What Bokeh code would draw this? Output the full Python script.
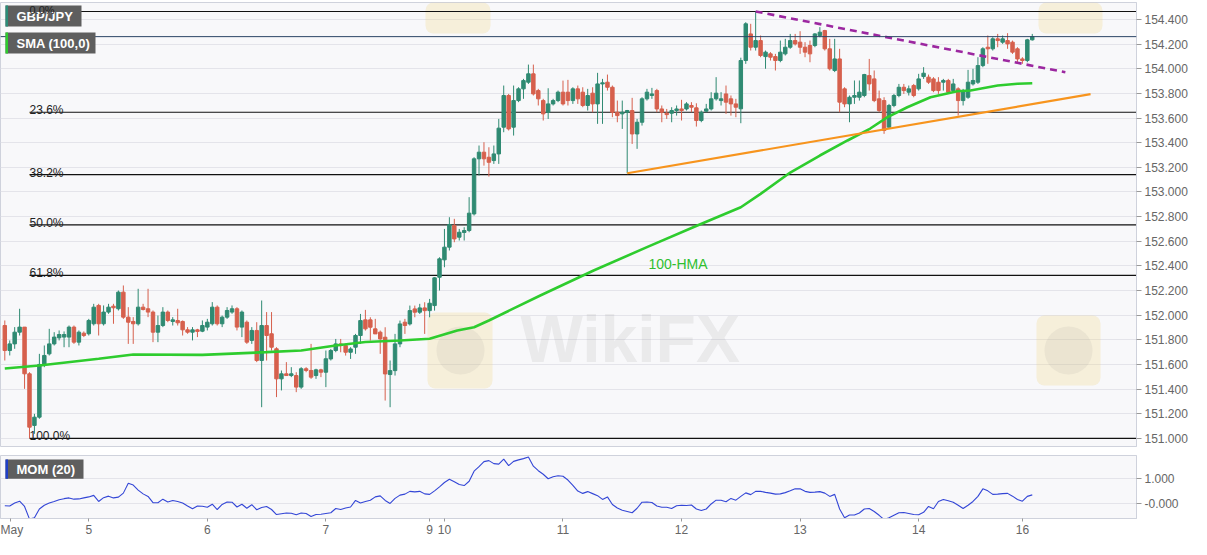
from bokeh.plotting import figure
from bokeh.models import (Range1d, FixedTicker, NumeralTickFormatter, Span, Label,
                          BoxAnnotation, ColumnDataSource)
from bokeh.layouts import column
from bokeh.embed import file_html
from bokeh.resources import INLINE
from bokeh.core.properties import value

FONT = "Liberation Sans"

# ---------------- data (hourly bars, index 0 = first visible bar) ----------------
opens = [
    151.916, 151.713, 151.767, 151.862, 151.903, 151.524, 151.105, 151.172, 151.600, 151.686,
    151.767, 151.816, 151.822, 151.822, 151.903, 151.781, 151.854, 151.849, 151.930, 152.079,
    151.930, 152.025, 152.073, 152.052, 152.187, 151.984, 151.949, 151.930, 152.065, 152.052,
    152.025, 151.862, 151.916, 152.025, 151.949, 151.957, 151.949, 151.881, 151.862, 151.881,
    151.870, 151.903, 151.930, 152.065, 151.930, 151.984, 152.025, 152.052, 151.903, 151.943,
    151.795, 151.876, 151.632, 151.916, 151.849, 151.727, 151.483, 151.524, 151.510, 151.510,
    151.416, 151.565, 151.551, 151.510, 151.556, 151.537, 151.645, 151.713, 151.767, 151.753,
    151.699, 151.740, 151.835, 151.962, 151.962, 151.889, 151.862, 151.821, 151.518, 151.550,
    151.767, 151.943, 151.929, 152.051, 152.024, 152.059, 152.037, 152.078, 152.308, 152.449,
    152.552, 152.727, 152.633, 152.671, 152.687, 152.822, 153.269, 153.323, 153.282, 153.255,
    153.309, 153.526, 153.783, 153.526, 153.742, 153.837, 153.891, 153.959, 153.823, 153.742,
    153.647, 153.715, 153.742, 153.810, 153.810, 153.742, 153.837, 153.810, 153.702, 153.802,
    153.715, 153.877, 153.891, 153.850, 153.647, 153.634, 153.647, 153.661, 153.471, 153.566,
    153.756, 153.783, 153.823, 153.674, 153.639, 153.639, 153.661, 153.674, 153.674, 153.702,
    153.683, 153.580, 153.656, 153.674, 153.756, 153.742, 153.796, 153.756, 153.715, 153.675,
    154.067, 154.283, 154.175, 154.229, 154.099, 154.121, 154.099, 154.067, 154.121, 154.175,
    154.229, 154.216, 154.175, 154.189, 154.189, 154.270, 154.310, 154.162, 153.986, 154.080,
    153.837, 153.715, 153.769, 153.769, 153.783, 153.945, 153.918, 153.756, 153.742, 153.526,
    153.702, 153.783, 153.850, 153.810, 153.864, 153.837, 153.937, 153.932, 153.918, 153.891,
    153.891, 153.905, 153.823, 153.837, 153.742, 153.769, 153.877, 153.891, 154.026, 154.175,
    154.162, 154.243, 154.216, 154.229, 154.216, 154.162, 154.080, 154.067, 154.235,
]
highs = [
    151.957, 151.795, 151.903, 152.052, 151.903, 151.537, 151.199, 151.686, 151.754, 151.889,
    151.862, 151.876, 151.868, 151.916, 151.916, 151.876, 151.868, 151.970, 152.092, 152.092,
    152.079, 152.092, 152.092, 152.200, 152.241, 152.065, 151.984, 152.214, 152.092, 152.214,
    152.038, 151.997, 152.065, 152.038, 151.984, 152.052, 151.957, 151.903, 151.903, 151.889,
    151.957, 151.970, 152.106, 152.079, 151.997, 152.065, 152.079, 152.065, 152.038, 151.957,
    151.903, 151.943, 152.119, 152.025, 152.025, 151.740, 151.551, 151.619, 151.578, 151.537,
    151.578, 151.578, 151.767, 151.565, 151.565, 151.713, 151.726, 151.807, 151.807, 151.767,
    151.740, 151.848, 152.010, 152.043, 151.983, 151.970, 151.875, 151.902, 151.632, 151.848,
    151.956, 151.970, 152.078, 152.078, 152.092, 152.105, 152.132, 152.308, 152.470, 152.700,
    152.795, 152.782, 152.700, 152.714, 152.958, 153.282, 153.377, 153.404, 153.363, 153.377,
    153.593, 153.864, 153.796, 153.864, 153.850, 153.918, 154.034, 154.034, 153.837, 153.756,
    153.842, 153.756, 153.823, 153.904, 153.910, 153.850, 153.864, 153.850, 153.837, 153.850,
    153.967, 153.918, 153.953, 153.864, 153.742, 153.742, 153.666, 153.764, 153.593, 153.769,
    153.837, 153.845, 153.837, 153.702, 153.674, 153.688, 153.702, 153.748, 153.729, 153.729,
    153.720, 153.661, 153.715, 153.810, 153.932, 153.810, 153.864, 153.783, 153.756, 154.090,
    154.378, 154.365, 154.465, 154.270, 154.148, 154.135, 154.121, 154.229, 154.243, 154.283,
    154.283, 154.305, 154.216, 154.229, 154.289, 154.338, 154.316, 154.243, 154.243, 154.162,
    153.850, 153.783, 153.905, 153.905, 153.959, 154.080, 153.986, 153.823, 153.769, 153.715,
    153.796, 153.877, 153.877, 153.864, 153.877, 153.959, 154.013, 153.953, 153.932, 153.932,
    153.918, 153.918, 153.918, 153.850, 153.837, 153.991, 154.000, 154.094, 154.175, 154.270,
    154.256, 154.283, 154.270, 154.289, 154.229, 154.175, 154.094, 154.243, 154.283,
]
lows = [
    151.632, 151.673, 151.727, 151.835, 151.402, 151.000, 151.037, 151.159, 151.578, 151.673,
    151.754, 151.795, 151.740, 151.740, 151.767, 151.754, 151.822, 151.835, 151.916, 151.835,
    151.916, 152.011, 151.930, 152.038, 151.970, 151.767, 151.767, 151.916, 152.038, 151.984,
    151.781, 151.781, 151.903, 151.943, 151.916, 151.916, 151.835, 151.849, 151.795, 151.822,
    151.862, 151.876, 151.916, 151.916, 151.903, 151.970, 152.011, 151.876, 151.822, 151.767,
    151.767, 151.619, 151.253, 151.632, 151.713, 151.335, 151.389, 151.510, 151.497, 151.375,
    151.402, 151.537, 151.483, 151.483, 151.497, 151.416, 151.632, 151.699, 151.699, 151.672,
    151.645, 151.686, 151.767, 151.875, 151.794, 151.848, 151.686, 151.307, 151.253, 151.510,
    151.740, 151.848, 151.916, 151.983, 152.010, 151.848, 151.983, 152.037, 152.200, 152.389,
    152.525, 152.592, 152.606, 152.606, 152.673, 152.809, 153.133, 153.214, 153.125, 153.228,
    153.228, 153.485, 153.499, 153.458, 153.729, 153.756, 153.877, 153.783, 153.702, 153.580,
    153.593, 153.702, 153.729, 153.702, 153.702, 153.715, 153.715, 153.688, 153.661, 153.647,
    153.553, 153.553, 153.823, 153.607, 153.566, 153.512, 153.152, 153.390, 153.350, 153.539,
    153.742, 153.756, 153.647, 153.566, 153.593, 153.566, 153.620, 153.580, 153.661, 153.647,
    153.531, 153.566, 153.647, 153.661, 153.742, 153.702, 153.634, 153.620, 153.607, 153.558,
    154.040, 154.148, 154.148, 154.094, 154.000, 154.067, 153.986, 154.053, 154.108, 154.162,
    154.189, 154.121, 154.094, 154.053, 154.175, 154.256, 154.148, 153.986, 153.973, 153.647,
    153.688, 153.566, 153.715, 153.742, 153.769, 153.823, 153.729, 153.647, 153.472, 153.512,
    153.688, 153.769, 153.796, 153.783, 153.769, 153.823, 153.918, 153.877, 153.810, 153.796,
    153.823, 153.796, 153.810, 153.620, 153.702, 153.756, 153.864, 153.877, 154.013, 154.040,
    154.148, 154.175, 154.202, 154.162, 154.121, 154.053, 154.040, 154.053, 154.229,
]
closes = [
    151.713, 151.767, 151.862, 151.903, 151.524, 151.091, 151.172, 151.600, 151.673, 151.767,
    151.822, 151.843, 151.843, 151.903, 151.781, 151.862, 151.835, 151.957, 152.065, 151.930,
    152.025, 152.065, 152.060, 152.187, 151.984, 151.943, 151.930, 152.065, 152.046, 152.025,
    151.862, 151.916, 152.025, 151.957, 151.962, 151.938, 151.881, 151.862, 151.881, 151.868,
    151.916, 151.943, 152.065, 151.930, 151.984, 152.038, 152.052, 151.903, 152.025, 151.781,
    151.876, 151.632, 151.916, 151.835, 151.740, 151.483, 151.524, 151.510, 151.524, 151.416,
    151.565, 151.551, 151.497, 151.556, 151.537, 151.646, 151.713, 151.767, 151.753, 151.699,
    151.726, 151.835, 151.956, 151.889, 151.902, 151.848, 151.807, 151.523, 151.550, 151.767,
    151.929, 151.916, 152.037, 152.024, 152.059, 152.037, 152.097, 152.303, 152.457, 152.552,
    152.736, 152.619, 152.673, 152.687, 152.828, 153.269, 153.323, 153.269, 153.241, 153.309,
    153.518, 153.783, 153.512, 153.742, 153.837, 153.904, 153.959, 153.796, 153.756, 153.634,
    153.715, 153.742, 153.810, 153.715, 153.742, 153.837, 153.756, 153.702, 153.783, 153.715,
    153.877, 153.886, 153.850, 153.647, 153.620, 153.647, 153.661, 153.471, 153.566, 153.756,
    153.810, 153.796, 153.674, 153.647, 153.628, 153.661, 153.674, 153.661, 153.715, 153.688,
    153.580, 153.647, 153.674, 153.756, 153.802, 153.756, 153.729, 153.715, 153.688, 154.067,
    154.365, 154.175, 154.229, 154.108, 154.135, 154.094, 154.067, 154.135, 154.175, 154.229,
    154.202, 154.175, 154.135, 154.121, 154.283, 154.297, 154.162, 154.000, 154.080, 153.729,
    153.715, 153.769, 153.783, 153.810, 153.953, 153.877, 153.742, 153.661, 153.499, 153.702,
    153.783, 153.850, 153.823, 153.837, 153.783, 153.918, 153.964, 153.891, 153.823, 153.823,
    153.905, 153.810, 153.877, 153.742, 153.823, 153.891, 153.905, 154.026, 154.162, 154.162,
    154.243, 154.229, 154.243, 154.202, 154.135, 154.080, 154.067, 154.235, 154.261,
]
mom = [
    -0.07, -0.08, 0.04, 0.11, -0.10, -0.60, -0.55, -0.20, -0.05, 0.04,
    0.10, 0.17, 0.21, 0.24, 0.19, 0.20, 0.24, 0.28, 0.34, 0.10,
    0.25, 0.31, 0.24, 0.27, 0.43, 0.82, 0.75, 0.55, 0.40, 0.30,
    0.05, 0.05, 0.19, 0.08, 0.14, 0.10, 0.04, -0.08, -0.19, -0.08,
    -0.09, -0.13, -0.01, -0.22, -0.02, 0.08, 0.07, -0.12, -0.01, -0.17,
    -0.03, -0.23, -0.14, -0.10, -0.22, -0.42, -0.39, -0.36, -0.37, -0.43,
    -0.36, -0.38, -0.50, -0.42, -0.41, -0.38, -0.35, -0.18, -0.22, -0.16,
    -0.12, 0.14, 0.04, 0.10, 0.15, 0.28, 0.32, 0.14, 0.02, 0.22,
    0.35, 0.39, 0.50, 0.48, 0.50, 0.40, 0.38, 0.52, 0.68, 0.85,
    0.98, 0.88, 0.77, 0.73, 0.90, 1.30, 1.48, 1.68, 1.72, 1.60,
    1.58, 1.78, 1.52, 1.69, 1.75, 1.80, 1.86, 1.50, 1.32, 1.18,
    1.00, 1.08, 1.12, 1.10, 0.95, 0.74, 0.51, 0.42, 0.49, 0.41,
    0.33, 0.18, 0.28, -0.02, -0.16, -0.25, -0.30, -0.35, -0.17, 0.07,
    0.08, 0.06, -0.08, -0.13, -0.13, -0.18, -0.07, -0.05, -0.06, -0.04,
    -0.20, -0.26, -0.20, 0.00, 0.15, 0.15, 0.09, 0.22, 0.15, 0.30,
    0.44, 0.37, 0.50, 0.50, 0.46, 0.43, 0.39, 0.40, 0.45, 0.52,
    0.60, 0.60, 0.50, 0.46, 0.47, 0.49, 0.43, 0.30, 0.38, -0.20,
    -0.55, -0.44, -0.44, -0.36, -0.20, -0.18, -0.30, -0.45, -0.62, -0.55,
    -0.45, -0.35, -0.34, -0.38, -0.42, -0.43, -0.33, -0.10, -0.19, 0.10,
    0.18, 0.13, 0.07, -0.05, -0.18, -0.05, 0.10, 0.30, 0.60, 0.52,
    0.38, 0.39, 0.41, 0.42, 0.31, 0.18, 0.11, 0.30, 0.36,
]
sma_bar = [0, 7, 19, 26, 40, 53, 60, 67, 73, 80, 86, 91.6, 95, 98, 108.4, 119.2,
           130, 140.2, 149, 153, 159, 165, 170.6, 175.2, 178.7, 182.7, 187.4,
           192.8, 195.5, 201, 205, 208]
sma_val = [151.567, 151.592, 151.646, 151.681, 151.678, 151.700, 151.713, 151.754,
           151.782, 151.794, 151.808, 151.876, 151.902, 151.957, 152.160, 152.363,
           152.552, 152.728, 152.876, 152.985, 153.158, 153.296, 153.418, 153.515,
           153.607, 153.688, 153.769, 153.818, 153.824, 153.864, 153.878, 153.883]

day_ticks = [1.15, 17, 41, 65, 86, 89, 113, 137, 161, 185, 206]
day_labels = ["May", "5", "6", "7", "9", "10", "11", "12", "13", "14", "16"]
price_ticks = [151.0, 151.2, 151.4, 151.6, 151.8, 152.0, 152.2, 152.4, 152.6,
               152.8, 153.0, 153.2, 153.4, 153.6, 153.8, 154.0, 154.2, 154.4]
mom_ticks = [0, 1]
mom_tick_labels = ["-0.000", "1.000"]

fib_high = 154.465
fib_low = 151.000
fib_levels = [0.0, 23.6, 38.2, 50.0, 61.8, 100.0]
fib_start_bar = 5
support_bar = [126, 219.8]
support_val = [153.152, 153.794]
resist_bar = [152, 214.7]
resist_val = [154.465, 153.972]
last_price = 154.261
hma_label_bar = 130.3
hma_label_price = 152.419

# ---------------- geometry helpers (picture pixels -> data) ----------------
FW = 1136
X0, X1 = -0.87, 229.1
MAIN_TOP, MAIN_FH = 2, 444
Y0, Y1 = 150.934, 154.538
MOM_TOP, MOM_FH = 455, 65
MY0, MY1 = -0.577, 1.923


def kx(px):
    return X0 + px * (X1 - X0) / FW


def py_(py):
    return Y1 - (py - MAIN_TOP) * (Y1 - Y0) / MAIN_FH


def my_(py):
    return MY1 - (py - MOM_TOP) * (MY1 - MY0) / MOM_FH


GREEN = "#2f8a72"
RED = "#d6604d"
BG = "#f8f8fa"
GRID = "#e4e4ea"
BORDER = "#cfd2dc"

xr = Range1d(X0, X1)

p = figure(width=1191, height=451, x_range=xr, y_range=Range1d(Y0, Y1),
           output_backend="svg", toolbar_location=None, x_axis_location=None,
           y_axis_location="right", min_border_left=0, min_border_right=55,
           min_border_top=2, min_border_bottom=5)
p.background_fill_color = BG
p.border_fill_color = "white"
p.outline_line_color = BORDER
p.xgrid.visible = False
p.yaxis.ticker = FixedTicker(ticks=price_ticks)
p.yaxis.formatter = NumeralTickFormatter(format="0.000")
p.ygrid.grid_line_color = GRID
p.yaxis.axis_line_color = BORDER
p.yaxis.major_tick_line_color = "#999999"
p.yaxis.major_tick_out = 5
p.yaxis.major_tick_in = 0
p.yaxis.minor_tick_line_color = None
p.yaxis.major_label_text_font = FONT
p.yaxis.major_label_text_font_size = "12px"
p.yaxis.major_label_text_color = "#666666"
p.yaxis.major_label_standoff = 3

# faint watermark logos
for (l, r, t, b) in [(427, 492, 312, 388), (1036, 1100, 315, 385), (425, 490, 2, 33), (1038, 1102, 2, 33)]:
    p.add_layout(BoxAnnotation(left=kx(l), right=kx(r), top=py_(t), bottom=py_(b),
                               fill_color="#f0d27a", fill_alpha=0.25, line_color=None,
                               border_radius=8, level="underlay"))
p.scatter(x=[kx(460), kx(1068)], y=[py_(350), py_(350)], size=48, marker="circle",
          fill_color="#8a8a8a", fill_alpha=0.10, line_color=None)
p.text(x=[kx(520)], y=[py_(338)], text=["WikiFX"], text_font=value(FONT),
       text_font_style="bold", text_font_size="66px", text_color="#8a8a8a",
       text_alpha=0.13, text_baseline="alphabetic")

# fibonacci levels
fib_prices = [fib_high - lv / 100.0 * (fib_high - fib_low) for lv in fib_levels]
p.segment(x0=[fib_start_bar] * len(fib_prices), x1=[X1 + 5] * len(fib_prices),
          y0=fib_prices, y1=fib_prices, line_color="#111111", line_width=1.2)

# candles
bars = list(range(len(opens)))
colors = [GREEN if c >= o else RED for o, c in zip(opens, closes)]
src = ColumnDataSource(dict(
    x=bars, h=highs, l=lows,
    top=[max(o, c) for o, c in zip(opens, closes)],
    bottom=[min(o, c) for o, c in zip(opens, closes)],
    color=colors))
p.segment(x0="x", y0="h", x1="x", y1="l", line_color="color", line_width=1, source=src)
p.vbar(x="x", width=0.7, top="top", bottom="bottom", fill_color="color",
       line_color="color", line_width=1, source=src)

# moving average and trend lines
p.line(sma_bar, sma_val, line_color="#2ecc2e", line_width=2.6)
p.line(support_bar, support_val, line_color="#f7941d", line_width=2.2)
p.line(resist_bar, resist_val, line_color="#9c27a0", line_width=2.6, line_dash="7 5")
p.text(x=[hma_label_bar], y=[hma_label_price], text=["100-HMA"], text_font=value(FONT),
       text_font_size="14px", text_color="#2fbf2f", text_baseline="alphabetic")

# current price
p.add_layout(Span(location=last_price, dimension="width", line_color="#2c4565", line_width=1))
p.add_layout(Label(x=X1, y=last_price, x_offset=5, text="%.3f" % last_price,
                   text_color="white", text_font=FONT, text_font_style="bold",
                   text_font_size="12px", text_baseline="middle", text_align="left",
                   background_fill_color="#2a4a72", background_fill_alpha=1.0, padding=2))


# legend boxes
def tag(fig, ymap, top, bottom, right, strip_color, text):
    fig.add_layout(BoxAnnotation(left=kx(5), right=kx(right), top=ymap(top), bottom=ymap(bottom),
                                 fill_color="#5e5e5e", fill_alpha=1.0, line_color=None))
    fig.add_layout(BoxAnnotation(left=kx(5), right=kx(7.5), top=ymap(top), bottom=ymap(bottom),
                                 fill_color=strip_color, fill_alpha=1.0, line_color=None))
    fig.add_layout(Label(x=kx(16), y=ymap((top + bottom) / 2.0), text=text, text_color="white",
                         text_font=FONT, text_font_style="bold", text_font_size="13px",
                         text_baseline="middle", text_align="left"))


tag(p, py_, 5, 26, 81, "#2b8c78", "GBP/JPY")
tag(p, py_, 32, 53, 95, "#2ecc2e", "SMA (100,0)")

# fibonacci labels (drawn last, above the tags)
for lv, pr in zip(fib_levels, fib_prices):
    p.add_layout(Label(x=fib_start_bar, y=pr, y_offset=1 if lv == 0 else 2,
                       text="%.1f%%" % lv, text_font=FONT,
                       text_font_size="12px" if lv else "11px", text_color="#222222",
                       text_baseline="alphabetic", text_align="left"))

# ---------------- momentum panel ----------------
m = figure(width=1191, height=88, x_range=xr, y_range=Range1d(MY0, MY1),
           output_backend="svg", toolbar_location=None, y_axis_location="right",
           min_border_left=0, min_border_right=55, min_border_top=4, min_border_bottom=19)
m.background_fill_color = BG
m.border_fill_color = "white"
m.outline_line_color = BORDER
m.xgrid.visible = False
m.ygrid.grid_line_color = GRID
m.yaxis.ticker = FixedTicker(ticks=mom_ticks)
m.yaxis.major_label_overrides = dict(zip(mom_ticks, mom_tick_labels))
m.yaxis.axis_line_color = BORDER
m.yaxis.major_tick_line_color = "#999999"
m.yaxis.major_tick_out = 5
m.yaxis.major_tick_in = 0
m.yaxis.minor_tick_line_color = None
m.yaxis.major_label_text_font = FONT
m.yaxis.major_label_text_font_size = "12px"
m.yaxis.major_label_text_color = "#666666"
m.yaxis.major_label_standoff = 3

m.xaxis.ticker = FixedTicker(ticks=day_ticks)
m.xaxis.major_label_overrides = dict(zip(day_ticks, day_labels))
m.xaxis.axis_line_color = BORDER
m.xaxis.major_tick_line_color = "#999999"
m.xaxis.major_tick_out = 3
m.xaxis.major_tick_in = 0
m.xaxis.minor_tick_line_color = None
m.xaxis.major_label_text_font = FONT
m.xaxis.major_label_text_font_size = "12px"
m.xaxis.major_label_text_color = "#666666"
m.xaxis.major_label_standoff = 1

m.line(bars, mom, line_color="#3346d6", line_width=1.1)
tag(m, my_, 459, 479, 83, "#1f3fc8", "MOM (20)")

layout = column(p, m, spacing=0)
open("out.html", "w").write(file_html(layout, INLINE))
